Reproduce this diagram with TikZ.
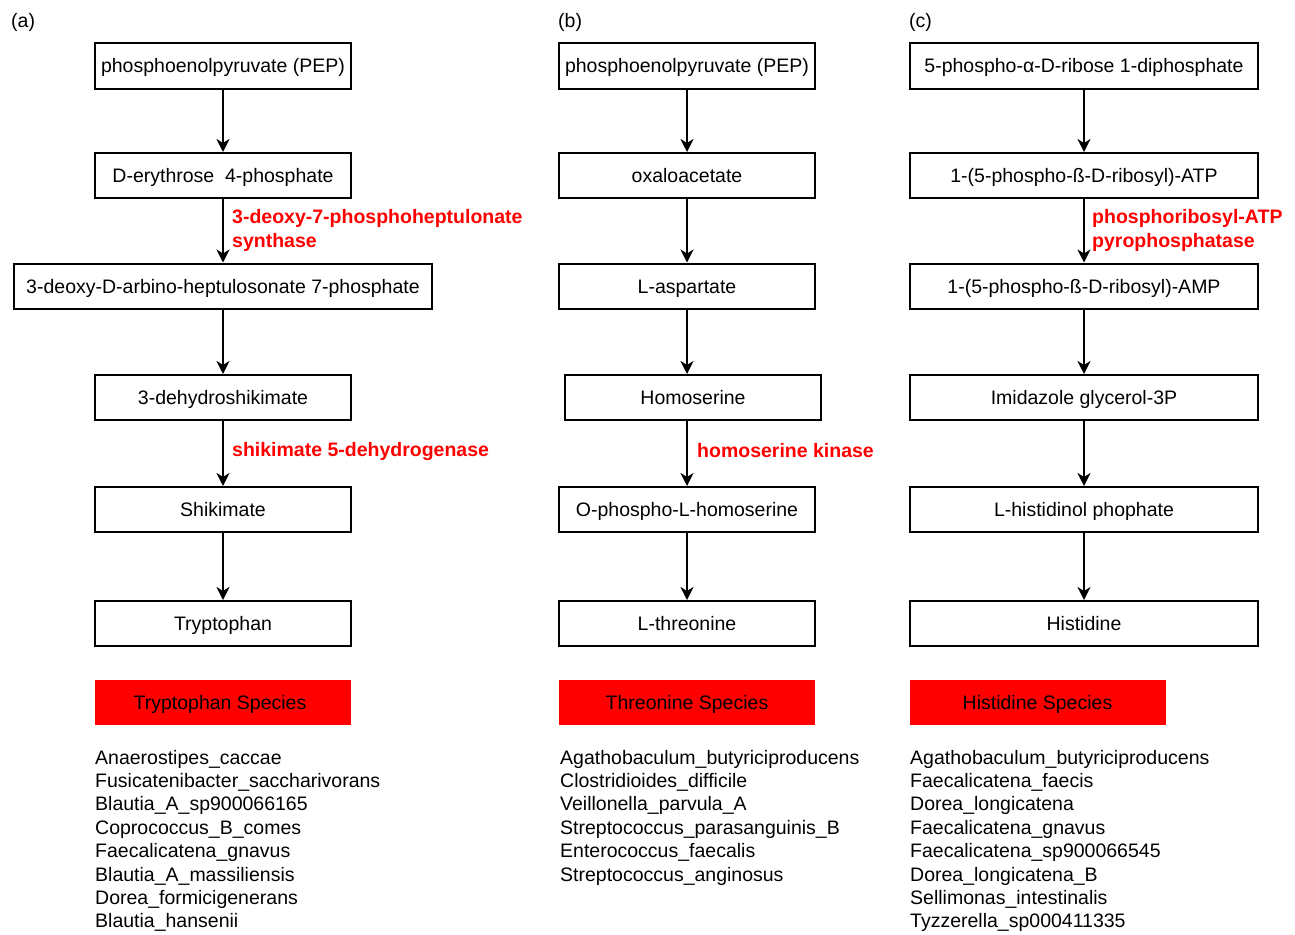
\documentclass[tikz,border=0pt]{standalone}
\usepackage{fontspec}
\setmainfont{Liberation Sans}
\usetikzlibrary{arrows.meta}

\tikzset{
  stepbox/.style={draw, line width=2pt, minimum width=256pt, minimum height=45pt,
    inner sep=0pt, text height=16pt, text depth=2pt, font=\fontsize{19.5}{23.4}\selectfont},
  speciesbox/.style={fill=red, minimum width=256pt, minimum height=45pt,
    inner sep=0pt, text height=16pt, text depth=2pt, font=\fontsize{19.5}{23.4}\selectfont},
  enzyme/.style={text=red, font=\bfseries\fontsize{19.5}{24}\selectfont,
    align=left, anchor=west, inner sep=0pt},
  flow/.style={-{Stealth[length=13pt,width=13pt,inset=4pt]}, line width=2pt},
  species/.style={anchor=base west, inner sep=0pt, font=\fontsize{19.5}{23.4}\selectfont},
  panel/.style={anchor=west, inner sep=0pt, font=\fontsize{19.5}{23.4}\selectfont}
}

\begin{document}
\begin{tikzpicture}[x=1pt,y=-1pt]
  \useasboundingbox[fill=white] (0,0) rectangle (1295,934);

  % panel (a): tryptophan
  \node[panel] (pa) at (11,22) {(a)};
  \node[stepbox] (a1) at (223,66) {phosphoenolpyruvate (PEP)};
  \node[stepbox] (a2) at (223,175.5) {D-erythrose\ \ 4-phosphate};
  \node[stepbox, minimum width=418pt] (a3) at (223,286) {3-deoxy-D-arbino-heptulosonate 7-phosphate};
  \node[stepbox] (a4) at (223,397.5) {3-dehydroshikimate};
  \node[stepbox] (a5) at (223,509.5) {Shikimate};
  \node[stepbox] (a6) at (223,623.5) {Tryptophan};
  \draw[flow] (a1) -- (a2);
  \draw[flow] (a2) -- (a3);
  \draw[flow] (a3) -- (a4);
  \draw[flow] (a4) -- (a5);
  \draw[flow] (a5) -- (a6);
  \node[enzyme] (ea) at (232,230) {3-deoxy-7-phosphoheptulonate\\synthase};
  \node[enzyme] (eb) at (232,451) {shikimate 5-dehydrogenase};
  \node[speciesbox] (sa) at (223,702.5) {\hspace*{-6pt}Tryptophan Species};
  \foreach \name [count=\i] in {Anaerostipes\_caccae, Fusicatenibacter\_saccharivorans,
      Blautia\_A\_sp900066165, Coprococcus\_B\_comes, Faecalicatena\_gnavus,
      Blautia\_A\_massiliensis, Dorea\_formicigenerans, Blautia\_hansenii}
    \node[species] (ta\i) at (95,740.6+23.4*\i) {\name};

  % panel (b): threonine
  \node[panel] (pb) at (558,22) {(b)};
  \node[stepbox] (b1) at (687,66) {phosphoenolpyruvate (PEP)};
  \node[stepbox] (b2) at (687,175.5) {oxaloacetate};
  \node[stepbox] (b3) at (687,286) {L-aspartate};
  \node[stepbox] (b4) at (693,397.5) {Homoserine};
  \node[stepbox] (b5) at (687,509.5) {O-phospho-L-homoserine};
  \node[stepbox] (b6) at (687,623.5) {L-threonine};
  \draw[flow] (b1) -- (b2);
  \draw[flow] (b2) -- (b3);
  \draw[flow] (b3) -- (b3.south |- b4.north);
  \draw[flow] (b5.north |- b4.south) -- (b5);
  \draw[flow] (b5) -- (b6);
  \node[enzyme] (ec) at (697,451) {homoserine kinase};
  \node[speciesbox] (sb) at (687,702.5) {Threonine Species};
  \foreach \name [count=\i] in {Agathobaculum\_butyriciproducens, Clostridioides\_difficile,
      Veillonella\_parvula\_A, Streptococcus\_parasanguinis\_B, Enterococcus\_faecalis,
      Streptococcus\_anginosus}
    \node[species] (tb\i) at (560,740.6+23.4*\i) {\name};

  % panel (c): histidine
  \node[panel] (pc) at (909,22) {(c)};
  \node[stepbox, minimum width=348pt] (c1) at (1084,66) {5-phospho-α-D-ribose 1-diphosphate};
  \node[stepbox, minimum width=348pt] (c2) at (1084,175.5) {1-(5-phospho-ß-D-ribosyl)-ATP};
  \node[stepbox, minimum width=348pt] (c3) at (1084,286) {1-(5-phospho-ß-D-ribosyl)-AMP};
  \node[stepbox, minimum width=348pt] (c4) at (1084,397.5) {Imidazole glycerol-3P};
  \node[stepbox, minimum width=348pt] (c5) at (1084,509.5) {L-histidinol phophate};
  \node[stepbox, minimum width=348pt] (c6) at (1084,623.5) {Histidine};
  \draw[flow] (c1) -- (c2);
  \draw[flow] (c2) -- (c3);
  \draw[flow] (c3) -- (c4);
  \draw[flow] (c4) -- (c5);
  \draw[flow] (c5) -- (c6);
  \node[enzyme] (ed) at (1092,230) {phosphoribosyl-ATP\\pyrophosphatase};
  \node[speciesbox] (sc) at (1037.5,702.5) {Histidine Species};
  \foreach \name [count=\i] in {Agathobaculum\_butyriciproducens, Faecalicatena\_faecis,
      Dorea\_longicatena, Faecalicatena\_gnavus, Faecalicatena\_sp900066545,
      Dorea\_longicatena\_B, Sellimonas\_intestinalis, Tyzzerella\_sp000411335}
    \node[species] (tc\i) at (910,740.6+23.4*\i) {\name};
\end{tikzpicture}
\end{document}
